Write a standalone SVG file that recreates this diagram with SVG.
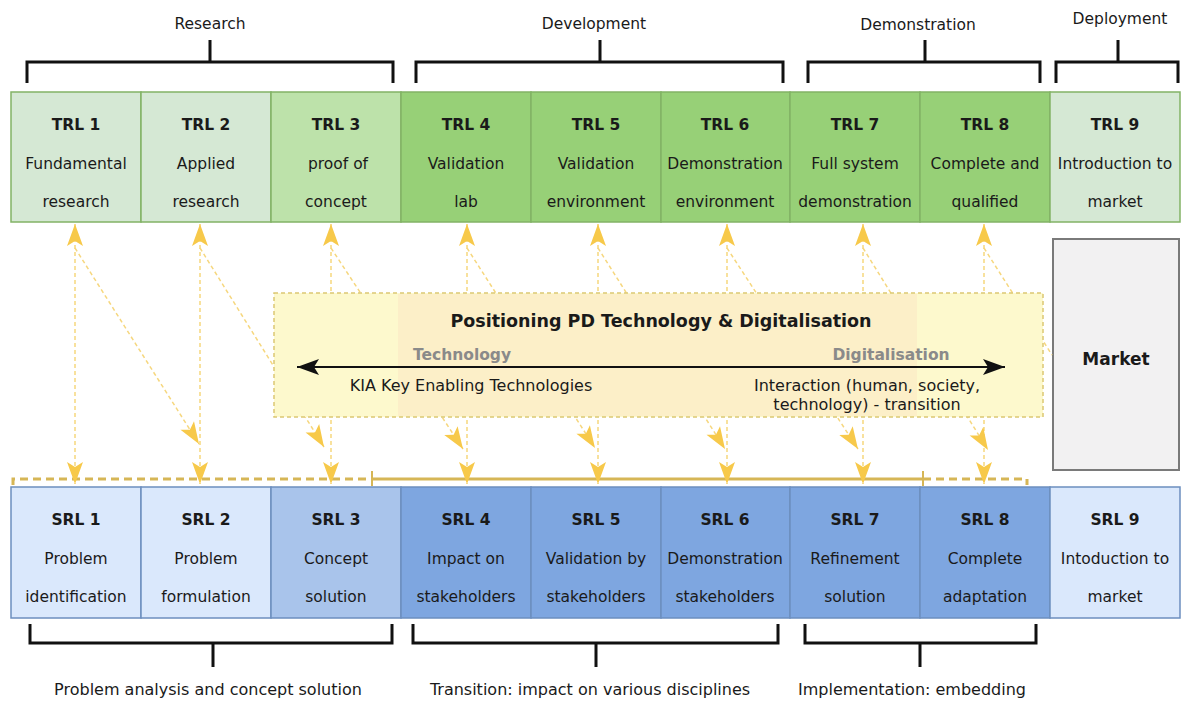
<svg xmlns="http://www.w3.org/2000/svg" width="1183" height="702" viewBox="0 0 1183 702">
<style>
  text { font-family: "DejaVu Sans", Verdana, sans-serif; fill: #1a1a1a; text-anchor: middle; }
  .t { font-size: 15.5px; }
  .lb { font-size: 16px; }
  .b { font-size: 15.5px; font-weight: bold; }
  .trl { stroke: #82b366; stroke-width: 1.5; }
  .srl { stroke: #6c8ebf; stroke-width: 1.5; }
  .brk { fill: none; stroke: #111; stroke-width: 3; }
  .dl { fill: none; stroke: #f6d77e; stroke-width: 1.5; stroke-dasharray: 4 3; }
  .gold { fill: none; stroke: #d6b656; stroke-width: 3; }
</style>
<defs>
  <marker id="ah" viewBox="-23 -9 24 18" refX="0" refY="0" markerWidth="24" markerHeight="18" markerUnits="userSpaceOnUse" orient="auto-start-reverse">
    <path d="M0,0 L-22,-8 L-17,0 L-22,8 Z" fill="#f7c94a"/>
  </marker>
  <marker id="ah2" viewBox="-23 -9 24 18" refX="0" refY="0" markerWidth="24" markerHeight="18" markerUnits="userSpaceOnUse" orient="auto-start-reverse">
    <path d="M0,0 L-22,-8 L-17,0 L-22,8 Z" fill="#111"/>
  </marker>
</defs>
<rect width="1183" height="702" fill="#fff"/>

<g id="phases-top">
  <text class="t" x="210" y="29">Research</text>
  <path class="brk" d="M27,83 V62 H393 V83 M210,62 V40"/>
  <text class="t" x="594" y="29">Development</text>
  <path class="brk" d="M416,83 V62 H783 V83 M600,62 V40"/>
  <text class="t" x="918" y="30">Demonstration</text>
  <path class="brk" d="M808,83 V62 H1040 V83 M925,62 V40"/>
  <text class="t" x="1120" y="24">Deployment</text>
  <path class="brk" d="M1056,83 V62 H1178 V83 M1118,62 V40"/>
</g>

<g id="trl1"><rect class="trl" x="11" y="92" width="130" height="130" fill="#d5e8d4"/><text class="b" x="76" y="130">TRL 1</text><text class="t" x="76" y="168.5">Fundamental</text><text class="t" x="76" y="207">research</text></g>
<g id="trl2"><rect class="trl" x="141" y="92" width="130" height="130" fill="#d5e8d4"/><text class="b" x="206" y="130">TRL 2</text><text class="t" x="206" y="168.5">Applied</text><text class="t" x="206" y="207">research</text></g>
<g id="trl3"><rect class="trl" x="271" y="92" width="130" height="130" fill="#bde2aa"/><text class="b" x="336" y="130">TRL 3</text><text class="t" x="338" y="168.5">proof of</text><text class="t" x="336" y="207">concept</text></g>
<g id="trl4"><rect class="trl" x="401" y="92" width="130" height="130" fill="#97d077"/><text class="b" x="466" y="130">TRL 4</text><text class="t" x="466" y="168.5">Validation</text><text class="t" x="466" y="207">lab</text></g>
<g id="trl5"><rect class="trl" x="531" y="92" width="130" height="130" fill="#97d077"/><text class="b" x="596" y="130">TRL 5</text><text class="t" x="596" y="168.5">Validation</text><text class="t" x="596" y="207">environment</text></g>
<g id="trl6"><rect class="trl" x="661" y="92" width="129" height="130" fill="#97d077"/><text class="b" x="725" y="130">TRL 6</text><text class="t" x="725" y="168.5">Demonstration</text><text class="t" x="725" y="207">environment</text></g>
<g id="trl7"><rect class="trl" x="790" y="92" width="130" height="130" fill="#97d077"/><text class="b" x="855" y="130">TRL 7</text><text class="t" x="855" y="168.5">Full system</text><text class="t" x="855" y="207">demonstration</text></g>
<g id="trl8"><rect class="trl" x="920" y="92" width="130" height="130" fill="#97d077"/><text class="b" x="985" y="130">TRL 8</text><text class="t" x="985" y="168.5">Complete and</text><text class="t" x="985" y="207">qualified</text></g>
<g id="trl9"><rect class="trl" x="1050" y="92" width="130" height="130" fill="#d5e8d4"/><text class="b" x="1115" y="130">TRL 9</text><text class="t" x="1115" y="168.5">Introduction to</text><text class="t" x="1115" y="207">market</text></g>

<g id="market"><rect x="1053" y="239" width="126" height="231" fill="#f2f1f2" stroke="#7a7a7a" stroke-width="2"/><text x="1116" y="365" style="font-size:17px;font-weight:bold">Market</text></g>

<g id="srl1"><rect class="srl" x="11" y="487" width="130" height="131" fill="#dae8fc"/><text class="b" x="76" y="525">SRL 1</text><text class="t" x="76" y="563.5">Problem</text><text class="t" x="76" y="602">identification</text></g>
<g id="srl2"><rect class="srl" x="141" y="487" width="130" height="131" fill="#dae8fc"/><text class="b" x="206" y="525">SRL 2</text><text class="t" x="206" y="563.5">Problem</text><text class="t" x="206" y="602">formulation</text></g>
<g id="srl3"><rect class="srl" x="271" y="487" width="130" height="131" fill="#a9c4eb"/><text class="b" x="336" y="525">SRL 3</text><text class="t" x="336" y="563.5">Concept</text><text class="t" x="336" y="602">solution</text></g>
<g id="srl4"><rect class="srl" x="401" y="487" width="130" height="131" fill="#7ea6e0"/><text class="b" x="466" y="525">SRL 4</text><text class="t" x="466" y="563.5">Impact on</text><text class="t" x="466" y="602">stakeholders</text></g>
<g id="srl5"><rect class="srl" x="531" y="487" width="130" height="131" fill="#7ea6e0"/><text class="b" x="596" y="525">SRL 5</text><text class="t" x="596" y="563.5">Validation by</text><text class="t" x="596" y="602">stakeholders</text></g>
<g id="srl6"><rect class="srl" x="661" y="487" width="129" height="131" fill="#7ea6e0"/><text class="b" x="725" y="525">SRL 6</text><text class="t" x="725" y="563.5">Demonstration</text><text class="t" x="725" y="602">stakeholders</text></g>
<g id="srl7"><rect class="srl" x="790" y="487" width="130" height="131" fill="#7ea6e0"/><text class="b" x="855" y="525">SRL 7</text><text class="t" x="855" y="563.5">Refinement</text><text class="t" x="855" y="602">solution</text></g>
<g id="srl8"><rect class="srl" x="920" y="487" width="130" height="131" fill="#7ea6e0"/><text class="b" x="985" y="525">SRL 8</text><text class="t" x="985" y="563.5">Complete</text><text class="t" x="985" y="602">adaptation</text></g>
<g id="srl9"><rect class="srl" x="1050" y="487" width="130" height="131" fill="#dae8fc"/><text class="b" x="1115" y="525">SRL 9</text><text class="t" x="1115" y="563.5">Intoduction to</text><text class="t" x="1115" y="602">market</text></g>

<g id="phases-bottom">
  <path class="brk" d="M30,624 V643 H392 V624 M213,643 V667"/>
  <text class="lb" x="208" y="695">Problem analysis and concept solution</text>
  <path class="brk" d="M413,624 V643 H778 V624 M596,643 V667"/>
  <text class="lb" x="590" y="695">Transition: impact on various disciplines</text>
  <path class="brk" d="M805,624 V643 H1036 V624 M920,643 V667"/>
  <text class="lb" x="912" y="695">Implementation: embedding</text>
</g>

<g id="srl-span">
  <path class="gold" d="M13,485 V479 H372" stroke-dasharray="8 5"/>
  <path class="gold" d="M372,479 H923"/>
  <path class="gold" d="M923,479 H1027 V485" stroke-dasharray="8 5"/>
  <path d="M372,471 V486 M923,471 V486" stroke="#d6b656" stroke-width="2"/>
</g>

<g id="connectors">
  <path class="dl" d="M75,224 V484" marker-start="url(#ah)" marker-end="url(#ah)"/>
  <path class="dl" d="M200,224 V484" marker-start="url(#ah)" marker-end="url(#ah)"/>
  <path class="dl" d="M331,224 V484" marker-start="url(#ah)" marker-end="url(#ah)"/>
  <path class="dl" d="M467,224 V484" marker-start="url(#ah)" marker-end="url(#ah)"/>
  <path class="dl" d="M598,224 V484" marker-start="url(#ah)" marker-end="url(#ah)"/>
  <path class="dl" d="M727,224 V484" marker-start="url(#ah)" marker-end="url(#ah)"/>
  <path class="dl" d="M863,224 V484" marker-start="url(#ah)" marker-end="url(#ah)"/>
  <path class="dl" d="M984,224 V484" marker-start="url(#ah)" marker-end="url(#ah)"/>
  <path class="dl" d="M75,248 L199,444" marker-end="url(#ah)"/>
  <path class="dl" d="M200,248 L324,447" marker-end="url(#ah)"/>
  <path class="dl" d="M331,248 L463,449" marker-end="url(#ah)"/>
  <path class="dl" d="M467,248 L595,448" marker-end="url(#ah)"/>
  <path class="dl" d="M598,248 L725,449" marker-end="url(#ah)"/>
  <path class="dl" d="M727,248 L858,449" marker-end="url(#ah)"/>
  <path class="dl" d="M863,248 L988,450" marker-end="url(#ah)"/>
  <path class="dl" d="M984,248 L1052,355"/>
</g>

<g id="positioning">
  <rect x="274" y="293" width="769" height="124" fill="#fdf9cd" stroke="#dcc873" stroke-width="1.5" stroke-dasharray="4 3"/>
  <rect x="398" y="294" width="519" height="122" fill="#fcefc8"/>
  <text x="661" y="327" style="font-size:17.5px;font-weight:bold">Positioning PD Technology &amp; Digitalisation</text>
  <text x="462" y="360" style="font-size:15.5px;font-weight:bold;fill:#8a8a8a">Technology</text>
  <text x="891" y="360" style="font-size:15.5px;font-weight:bold;fill:#8a8a8a">Digitalisation</text>
  <path d="M297,367 H1005" stroke="#111" stroke-width="2" fill="none" marker-start="url(#ah2)" marker-end="url(#ah2)"/>
  <text x="471" y="391" style="font-size:16px">KIA Key Enabling Technologies</text>
  <text x="867" y="391" style="font-size:16px">Interaction (human, society,</text>
  <text x="867" y="410" style="font-size:16px">technology) - transition</text>
</g>
</svg>
